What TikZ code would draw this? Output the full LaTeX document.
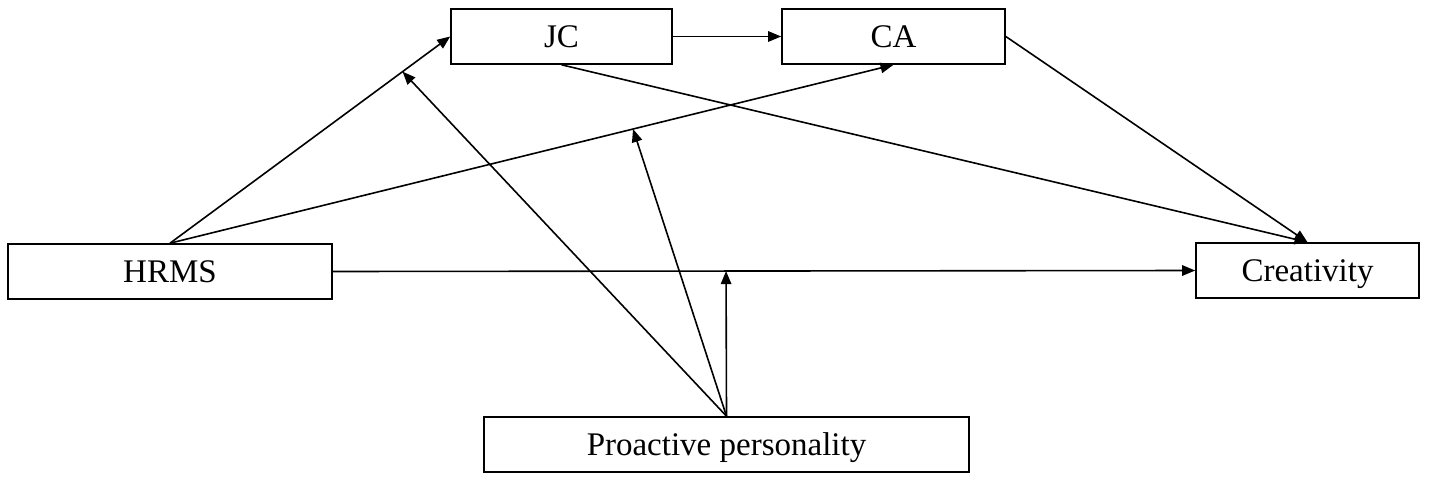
\documentclass[tikz,border=0pt]{standalone}
\usepackage{fontspec}
\setmainfont{Liberation Serif}
\usetikzlibrary{arrows.meta}

\begin{document}
\begin{tikzpicture}[>={Triangle[length=6.5pt,width=5.2pt]},x=0.5pt,y=-0.5pt,
  box/.style={draw,line width=0.8pt,inner sep=0pt,minimum height=27.5pt,
    text height=10.9pt,text depth=0pt,font=\fontsize{16.5}{20}\selectfont},
  link/.style={->,line width=0.8pt}]
  \useasboundingbox (0,0) rectangle (1429,482);
  %
  % Boxes
  \node[box,minimum width=110.5pt] (JC) at (561.5,36.5) {JC};
  \node[box,minimum width=111.5pt] (CA) at (893.5,36.5) {CA};
  \node[box,minimum width=162pt] (HRMS) at (170,271.5) {HRMS};
  \node[box,minimum width=111.5pt] (Creativity) at (1307.5,270.5) {Creativity};
  \node[box,minimum width=242.5pt] (PP) at (726.5,444.5) {Proactive personality};
  %
  % Paths
  \draw[link] (JC.east) -- (CA.west);
  \draw[link] (HRMS.north) -- coordinate[pos=0.83] (mJC) (JC.west);
  \draw[link] (HRMS.north) -- coordinate[pos=0.64] (mCA) (CA.south);
  \draw[link] (HRMS.east) -- coordinate[pos=0.456] (mCR) (Creativity.west);
  \draw[link] (JC.south) -- (Creativity.north);
  \draw[link] (CA.east) -- (Creativity.north);
  %
  % Moderator
  \draw[link] (PP.north) -- (mJC);
  \draw[link] (PP.north) -- (mCA);
  \draw[link] (PP.north) -- (mCR);
  %
\end{tikzpicture}
\end{document}
